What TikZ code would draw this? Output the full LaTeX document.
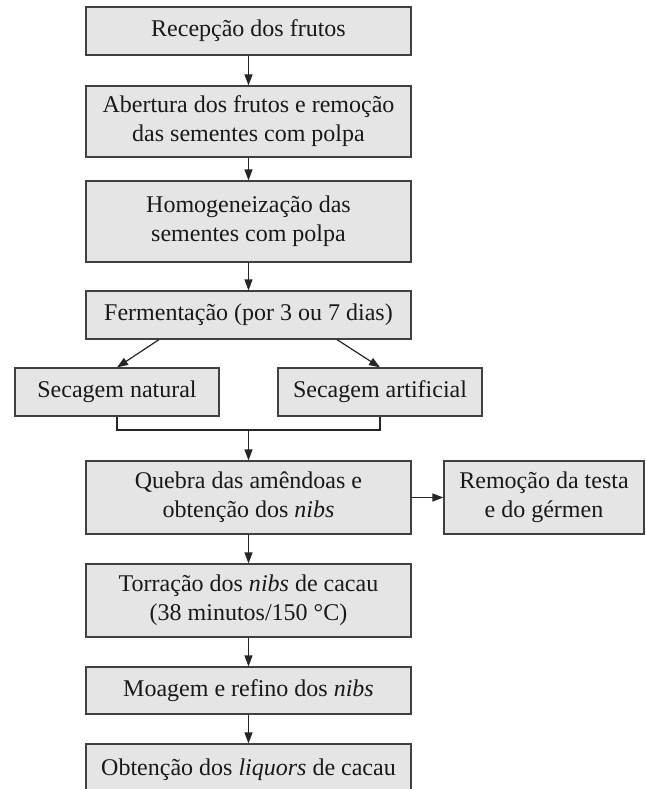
\documentclass[tikz,border=0pt]{standalone}
\usepackage{fontspec}
\setmainfont{Liberation Serif}
\usetikzlibrary{arrows.meta}
\tikzset{
  box/.style={draw=black!75, line width=1.2pt, fill=black!10, align=center,
    inner sep=0pt, font=\fontsize{24}{29}\selectfont, text=black!90},
  arr/.style={draw=black!85, line width=1.2pt, -{Triangle[length=11pt,width=8pt]}},
  con/.style={draw=black!85, line width=1.2pt}
}
\begin{document}
\begin{tikzpicture}[x=1pt,y=-1pt]
\clip (0,0) rectangle (645,789);
\fill[white] (0,0) rectangle (645,789);
\node[box, minimum width=325pt, minimum height=48pt] (b1) at (248.5,31) {Recepção dos frutos};
\node[box, minimum width=325pt, minimum height=71pt] (b2) at (248.5,121.5) {Abertura dos frutos e remoção\\das sementes com polpa};
\node[box, minimum width=325pt, minimum height=81pt] (b3) at (248.5,221.5) {Homogeneização das\\sementes com polpa};
\node[box, minimum width=325pt, minimum height=48pt] (ferm) at (248.5,315) {Fermentação (por 3 ou 7 dias)};
\node[box, minimum width=204pt, minimum height=48pt] (nat) at (117,392) {Secagem natural};
\node[box, minimum width=204pt, minimum height=48pt] (art) at (380,392) {Secagem artificial};
\node[box, minimum width=325pt, minimum height=73pt] (queb) at (248.5,497.5) {Quebra das amêndoas e\\obtenção dos \textit{nibs}};
\node[box, minimum width=200pt, minimum height=73pt] (rem) at (544,497.5) {Remoção da testa\\e do gérmen};
\node[box, minimum width=325pt, minimum height=73pt] (torr) at (248.5,600.5) {Torração dos \textit{nibs} de cacau\\(38 minutos/150 °C)};
\node[box, minimum width=325pt, minimum height=47pt] (moag) at (248.5,690.5) {Moagem e refino dos \textit{nibs}};
\node[box, minimum width=325pt, minimum height=52pt] (obt) at (248.5,770) {Obtenção dos \textit{liquors} de cacau};
\coordinate (join) at (248.5,430);
\draw[arr] (b1) -- (b2);
\draw[arr] (b2) -- (b3);
\draw[arr] (b3) -- (ferm);
\draw[arr] ([xshift=-89.5pt]ferm.south) -- (nat.north);
\draw[arr] ([xshift=88.5pt]ferm.south) -- (art.north);
\draw[con] (nat.south) |- (join) -| (art.south);
\draw[arr] (join) -- (queb.north);
\draw[arr] (queb.east) -- (rem.west);
\draw[arr] (queb) -- (torr);
\draw[arr] (torr) -- (moag);
\draw[arr] (moag) -- (obt);
\end{tikzpicture}
\end{document}
